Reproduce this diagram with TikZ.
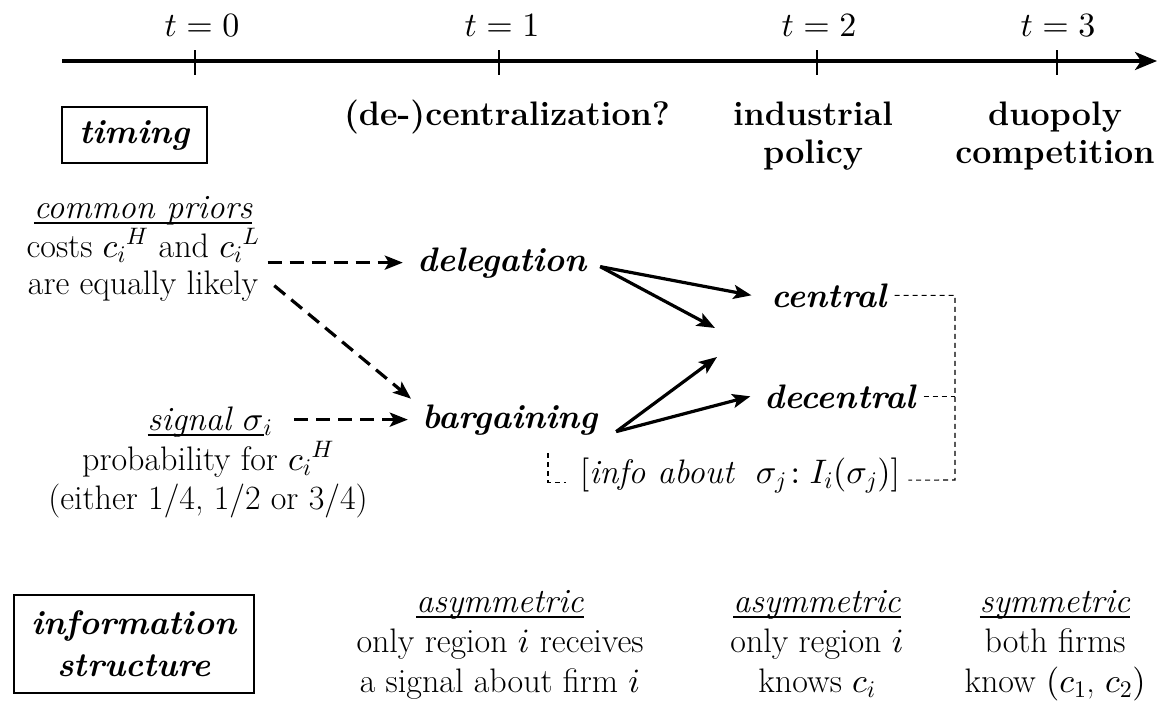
\documentclass[tikz,border=0pt]{standalone}
\usetikzlibrary{arrows.meta}
\DeclareFontFamily{OML}{cmm}{\skewchar\font127 }
\DeclareFontShape{OML}{cmm}{m}{it}{<->cmmi10}{}
\DeclareFontShape{OML}{cmm}{b}{it}{<->cmmib10}{}
\DeclareFontFamily{OMS}{cmsy}{\skewchar\font48 }
\DeclareFontShape{OMS}{cmsy}{m}{n}{<->cmsy10}{}
\DeclareFontFamily{OMX}{cmex}{}
\DeclareFontShape{OMX}{cmex}{m}{n}{<->cmex10}{}
\DeclareFontFamily{OT1}{cmr}{\hyphenchar\font45 }
\DeclareFontShape{OT1}{cmr}{m}{n}{<->cmr10}{}
\DeclareFontShape{OT1}{cmr}{bx}{n}{<->cmbx10}{}
\newcommand{\myfs}{\fontsize{34}{39}\selectfont}
\newcommand{\myul}[1]{\setbox0=\hbox{#1}\rlap{\vrule width\wd0 height -4pt depth 6pt}\box0}
\begin{document}
\begin{tikzpicture}[x=1pt,y=-1pt,
  txt/.style={font=\myfs, inner sep=0pt, anchor=base},
  hd/.style={txt, font=\myfs\bfseries},
  bi/.style={txt, font=\myfs\bfseries\itshape},
  tl/.style={line width=3.2pt, -{Stealth[length=22pt,width=18pt,inset=6pt]}},
  tickline/.style={line width=1.4pt},
  arr/.style={line width=3.2pt, -{Stealth[length=18pt,width=14pt,inset=4pt]}},
  darr/.style={arr, dash pattern=on 14pt off 8pt},
  infoline/.style={line width=1.1pt, dash pattern=on 5pt off 4pt},
  boxnode/.style={draw, line width=1.3pt, font=\myfs\bfseries\itshape, inner sep=0pt, align=center}]
\useasboundingbox (0,0) rectangle (1169,702);

% timeline
\coordinate (tA) at (62,61);
\coordinate (tB) at (1157,61);
\draw[tl] (tA) -- (tB);
\foreach \x/\n in {195/0,499/1,817/2,1057/3}{
  \coordinate (k\n) at (\x,61);
  \draw[tickline] ([yshift=11pt]k\n) -- ([yshift=-14pt]k\n);
}
\node[txt] (t0) at (202,36) {$t=0$};
\node[txt] (t1) at (502,36) {$t=1$};
\node[txt] (t2) at (819,36) {$t=2$};
\node[txt] (t3) at (1058,36) {$t=3$};

% timing box and headings
\node[boxnode, minimum width=145pt, minimum height=56pt] (timing) at (134.5,135) {timing};
\node[hd] (dec) at (507,125) {(de-)centralization?};
\node[hd] (ind1) at (813,125) {industrial};
\node[hd] (ind2) at (813,163) {policy};
\node[hd] (duo1) at (1055,125) {duopoly};
\node[hd] (duo2) at (1055,163) {competition};

% left block
\node[txt] (cp) at (143,218) {\myul{\itshape common priors}};
\node[txt] (costs) at (143,257) {costs $c_i{}^H$ and $c_i{}^L$};
\node[txt] (likely) at (143,294) {are equally likely};
\node[txt] (sig) at (210,430) {\myul{\itshape signal $\sigma$}$_i$};
\node[txt] (prob) at (208,470) {probability for $c_i{}^H$};
\node[txt] (either) at (208,509) {(either 1/4, 1/2 or 3/4)};

% middle nodes
\node[bi] (deleg) at (502,271) {delegation};
\node[bi] (barg) at (510,428) {bargaining};
\node[bi] (central) at (829,307) {central};
\node[bi] (decentral) at (840,408) {decentral};
\node[txt] (info) at (740,483) {$[$\textit{info about}~ $\sigma_j\!: I_i(\sigma_j)]$};

\coordinate (m1) at (715,328);
\coordinate (m2) at (717,357);

% dashed arrows
\draw[darr, shorten <=8pt, shorten >=14pt] (costs.east |- deleg.west) -- (deleg.west);
\draw[darr, shorten >=14pt] ([xshift=16pt]likely.east) -- ([yshift=12pt]barg.west);
\draw[darr, shorten <=22pt, shorten >=14pt] (sig.east |- barg.west) -- (barg.west);

% solid arrows
\draw[arr] ([xshift=13pt,yshift=-4pt]deleg.east) -- ([xshift=-20pt]central.west);
\draw[arr] ([xshift=13pt,yshift=-4pt]deleg.east) -- (m1);
\draw[arr] ([xshift=18pt,yshift=-12pt]barg.east) -- (m2);
\draw[arr] ([xshift=18pt,yshift=-12pt]barg.east) -- ([xshift=-14pt]decentral.west);

% info lines
\coordinate (brk) at (548,453);
\coordinate (rbot) at (955,480);
\draw[infoline, shorten >=14pt] (brk) |- ([yshift=-7pt]info.west);
\draw[infoline] ([xshift=8pt]central.east) -| (rbot) -- ([xshift=8pt,yshift=-5pt]info.east);
\draw[infoline] ([xshift=8pt]decentral.east) -- (decentral.east -| rbot);

% information structure
\node[boxnode, minimum width=240pt, minimum height=98pt, font=\fontsize{34}{42}\selectfont\bfseries\itshape] (infostr) at (134,644) {information\\structure};
\node[txt] (as1) at (500,612) {\myul{\itshape asymmetric}};
\node[txt] (as1b) at (500,652) {only region $i$ receives};
\node[txt] (as1c) at (500,692) {a signal about firm $i$};
\node[txt] (as2) at (817,612) {\myul{\itshape asymmetric}};
\node[txt] (as2b) at (817,652) {only region $i$};
\node[txt] (as2c) at (817,692) {knows $c_i$};
\node[txt] (sym) at (1055,612) {\myul{\itshape symmetric}};
\node[txt] (symb) at (1055,652) {both firms};
\node[txt] (symc) at (1055,692) {know $(c_1$, $c_2)$};
\end{tikzpicture}
\end{document}
